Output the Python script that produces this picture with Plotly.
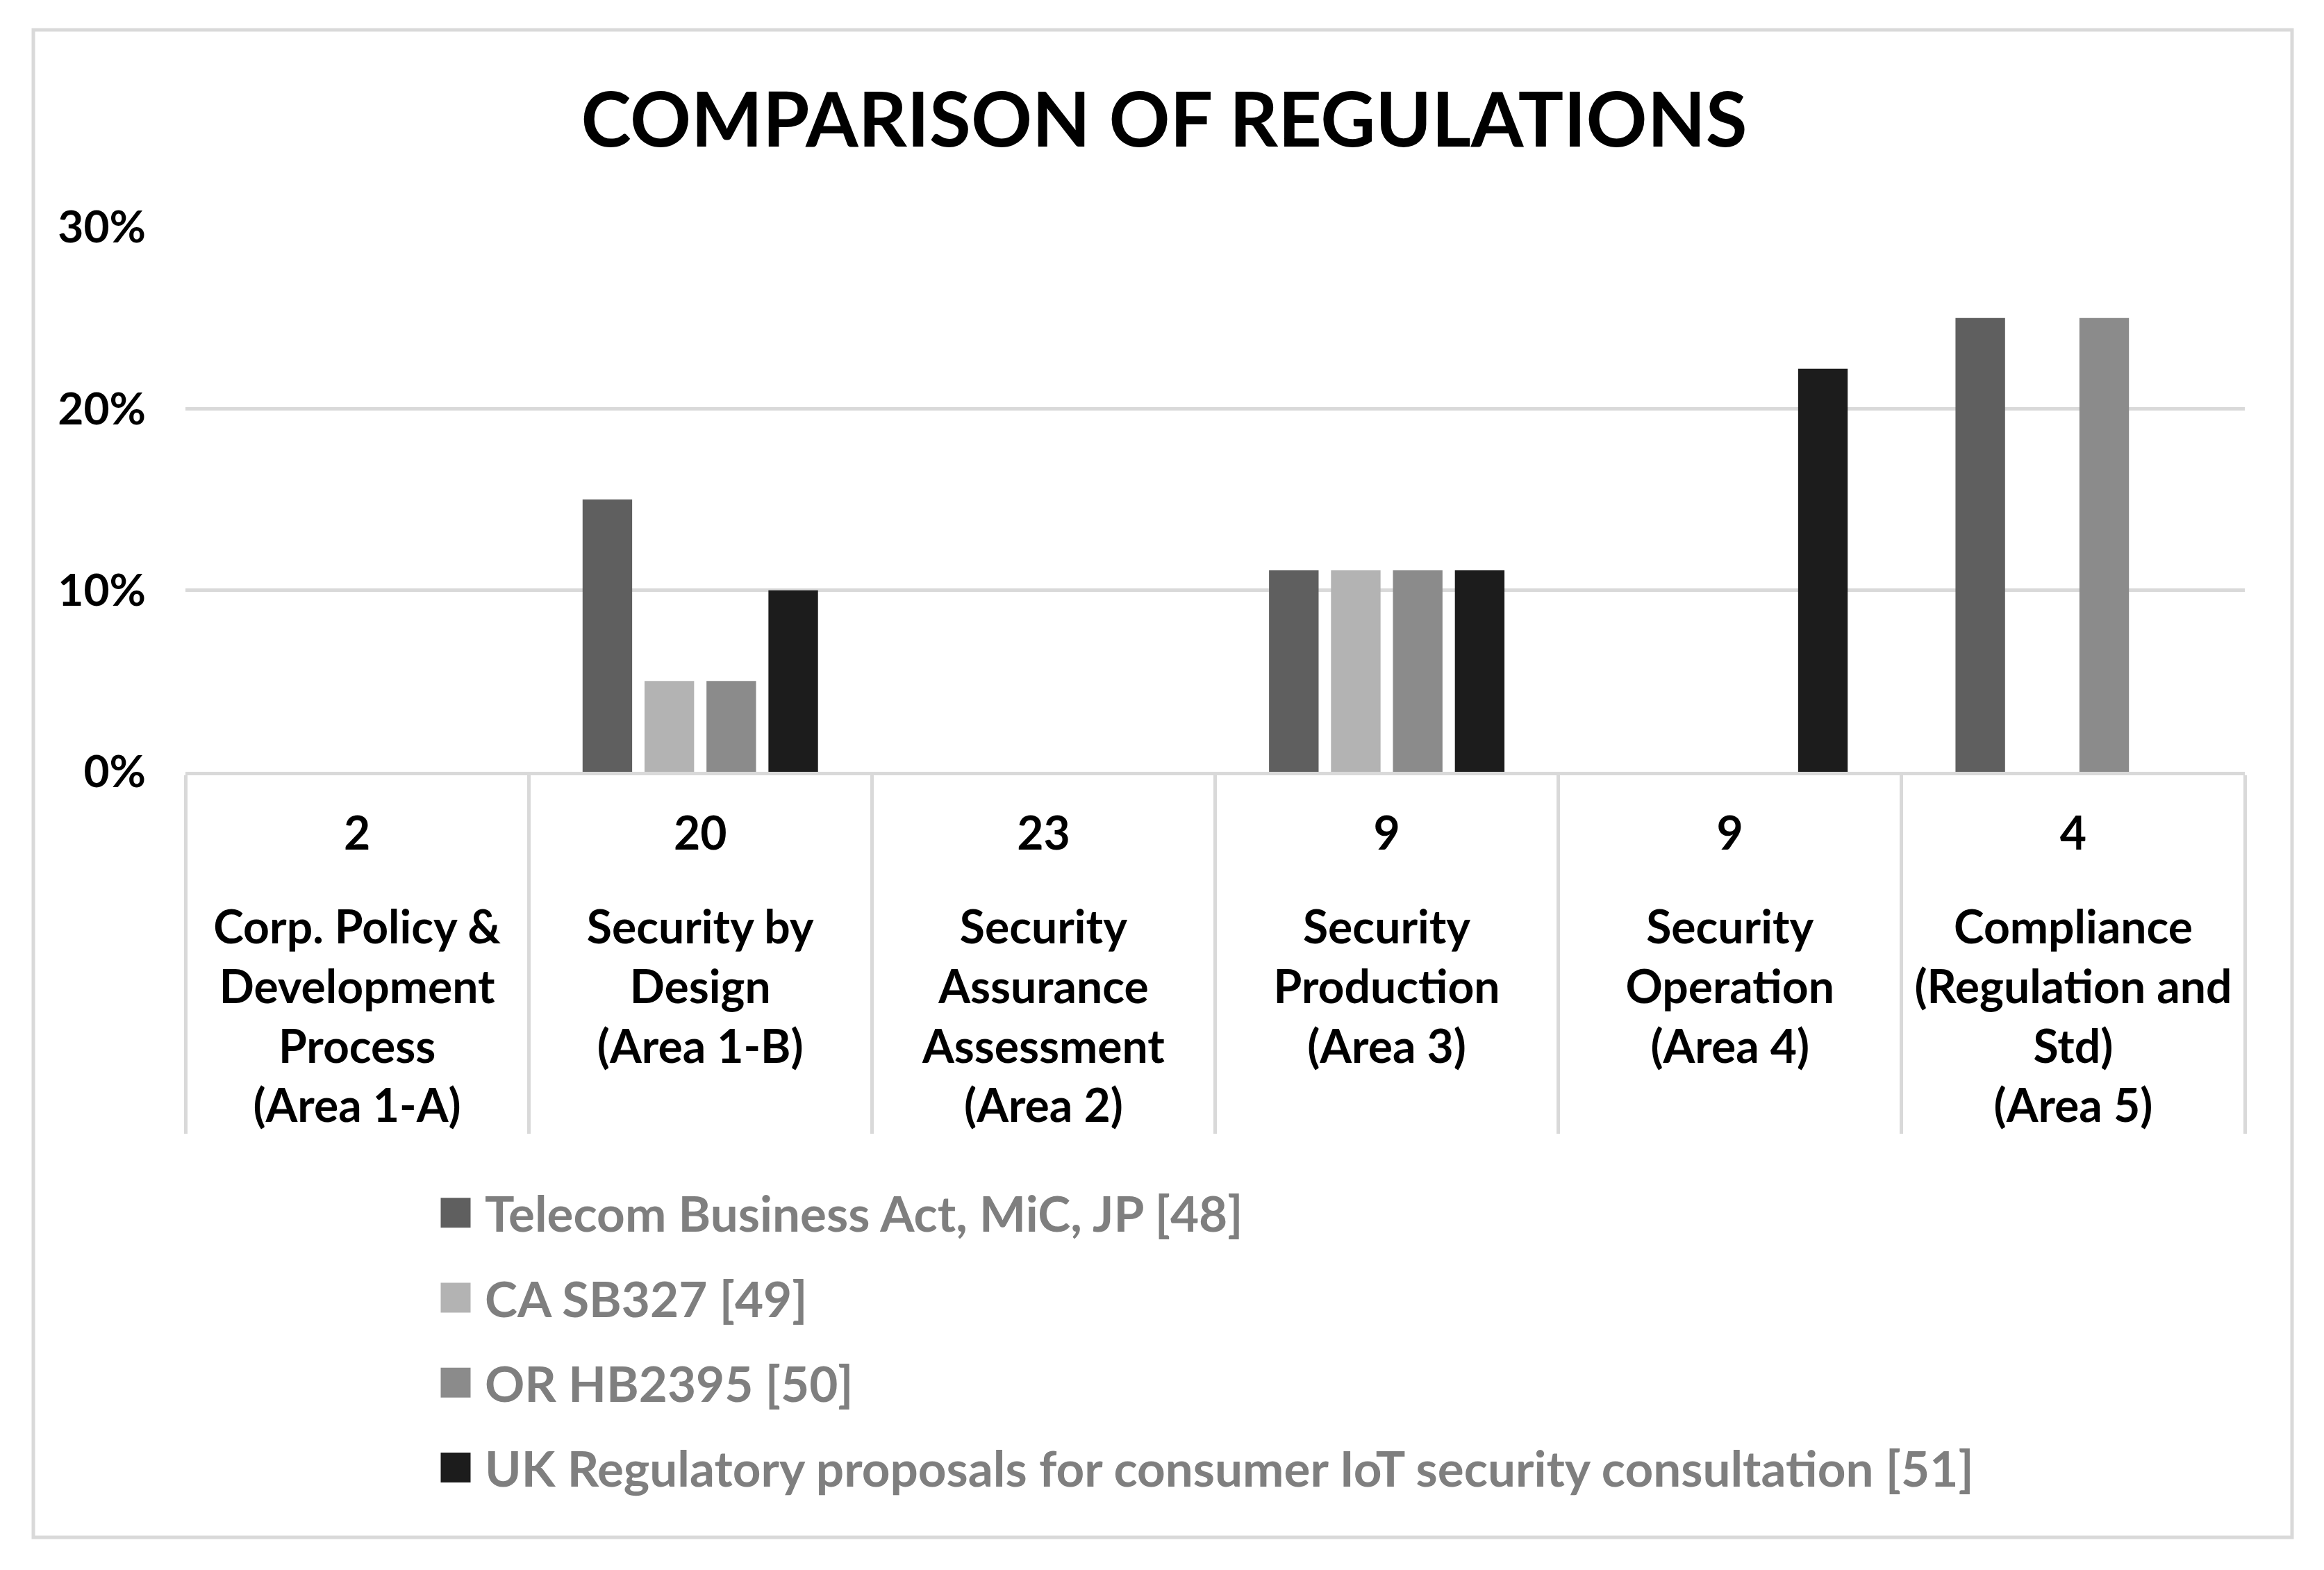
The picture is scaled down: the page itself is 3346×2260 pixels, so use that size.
import plotly.graph_objects as go

# ---- data ----
area_counts = ["2", "20", "23", "9", "9", "4"]
area_names = [
    "Corp. Policy &<br>Development<br>Process<br>(Area 1-A)",
    "Security by<br>Design<br>(Area 1-B)",
    "Security<br>Assurance<br>Assessment<br>(Area 2)",
    "Security<br>Production<br>(Area 3)",
    "Security<br>Operation<br>(Area 4)",
    "Compliance<br>(Regulation and<br>Std)<br>(Area 5)",
]
series_names = [
    "Telecom Business Act, MiC, JP [48]",
    "CA SB327 [49]",
    "OR HB2395 [50]",
    "UK Regulatory proposals for consumer IoT security consultation [51]",
]
telecom_jp = [0, 0.15, 0, 0.111, 0, 0.25]
ca_sb327 = [0, 0.05, 0, 0.111, 0, 0]
or_hb2395 = [0, 0.05, 0, 0.111, 0, 0.25]
uk_proposals = [0, 0.10, 0, 0.111, 0.222, 0]
y_ticks = [0, 0.10, 0.20, 0.30]

series_values = [telecom_jp, ca_sb327, or_hb2395, uk_proposals]
series_colors = ["#5f5f5f", "#b3b3b3", "#8b8b8b", "#1c1c1c"]

FONT = "Lato, 'Open Sans', sans-serif"

# inner level (count) gets a blank second line to leave room before the name
count_labels = [c + "<br><span style='font-size:48px'>\u00a0</span>" for c in area_counts]

fig = go.Figure()
for i, (name, vals, col) in enumerate(zip(series_names, series_values, series_colors)):
    fig.add_trace(go.Bar(
        name=name,
        x=[area_names, count_labels],
        y=vals,
        marker=dict(color=col, line=dict(width=0)),
        legendgroup="g%d" % i,
    ))

# page has an 8px body margin, so the figure is drawn 8px smaller on each side
W, H = 3330, 2244
L, R, T, B = 259, 106, 319, 1141
PW, PH = W - L - R, H - T - B

def px_x(px):
    return (px - L) / PW

def px_y(py):
    return (H - B - py) / PH

fig.update_layout(
    width=W, height=H,
    margin=dict(l=L, r=R, t=T, b=B, pad=0),
    paper_bgcolor="white",
    plot_bgcolor="white",
    barmode="group",
    bargap=0.278,
    bargroupgap=0.2,
    font=dict(family=FONT, size=64, color="black"),
    title=dict(
        text="COMPARISON OF REGULATIONS",
        font=dict(family=FONT, size=109, color="black", weight="bold"),
        x=1668 / W, xref="container", xanchor="center",
        y=1 - 165 / H, yref="container", yanchor="middle",
    ),
    xaxis=dict(
        type="multicategory",
        showline=True, linecolor="#d9d9d9", linewidth=5,
        showgrid=False, zeroline=False,
        ticks="",
        showdividers=True, dividercolor="#d9d9d9", dividerwidth=5,
        tickfont=dict(family=FONT, size=66, color="black", weight="bold"),
        ticklabelstandoff=28,
    ),
    yaxis=dict(
        range=[0, 0.30],
        tickvals=y_ticks,
        tickformat=".0%",
        showgrid=True, gridcolor="#d9d9d9", gridwidth=5,
        zeroline=False, showline=False,
        ticks="",
        tickfont=dict(family=FONT, size=64, color="black", weight="bold"),
        ticklabelstandoff=56,
    ),
    legend=dict(
        orientation="v",
        x=px_x(606), xanchor="left",
        y=px_y(1685), yanchor="top",
        font=dict(family=FONT, size=71, color="#7f7f7f", weight="bold"),
        tracegroupgap=27,
        itemwidth=74,
        bgcolor="rgba(0,0,0,0)",
    ),
    shapes=[dict(
        type="rect", xref="paper", yref="paper",
        x0=px_x(40), x1=px_x(3292), y0=px_y(2205), y1=px_y(35),
        line=dict(color="#d9d9d9", width=5), fillcolor="rgba(0,0,0,0)",
        layer="below",
    )],
)

# enlarge the legend swatches to the square size used in the reference
post = """
var gd = document.getElementById('{plot_id}');
function fixLegend(){
  document.querySelectorAll('g.legendpoints path').forEach(function(p){
    p.setAttribute('d','M21.5,21.5H-21.5V-21.5H21.5Z');
  });
}
fixLegend();
if (gd && gd.on) { gd.on('plotly_afterplot', fixLegend); }
setTimeout(fixLegend, 50);
setTimeout(fixLegend, 300);
setTimeout(fixLegend, 1000);
"""
fig.write_html("out.html", post_script=post)
